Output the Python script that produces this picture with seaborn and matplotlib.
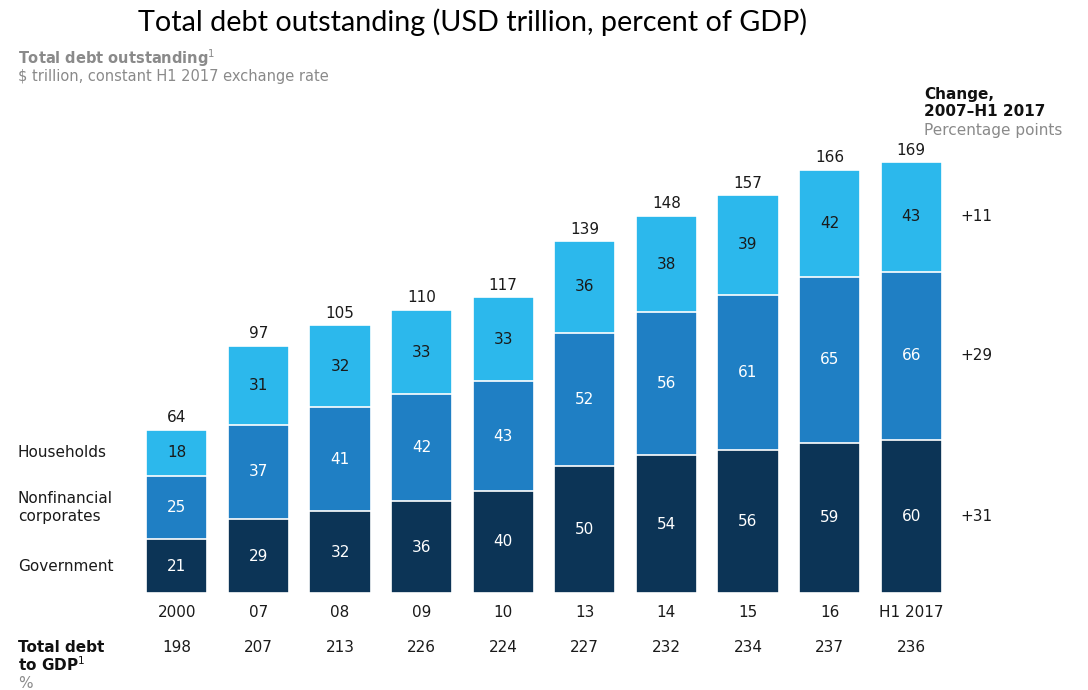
import matplotlib
matplotlib.use("Agg")
import matplotlib.pyplot as plt
import seaborn as sns
import pandas as pd
import numpy as np

# ---- data ----
periods = ["2000", "07", "08", "09", "10", "13", "14", "15", "16", "H1 2017"]
government = [21, 29, 32, 36, 40, 50, 54, 56, 59, 60]
nonfinancial = [25, 37, 41, 42, 43, 52, 56, 61, 65, 66]
households = [18, 31, 32, 33, 33, 36, 38, 39, 42, 43]
totals = [64, 97, 105, 110, 117, 139, 148, 157, 166, 169]
debt_to_gdp = [198, 207, 213, 226, 224, 227, 232, 234, 237, 236]
changes = ["+11", "+29", "+31"]  # households, nonfinancial, government
series_names = ["Households", "Nonfinancial\ncorporates", "Government"]

C_GOV = "#0c3456"
C_NFC = "#1f7fc4"
C_HH = "#2cb8ec"
GREY = "#8a8a8a"
TXT = "#1a1a1a"

sns.set_theme(style="white")
plt.rcParams["font.family"] = ["DejaVu Sans"]

W, H = 1088, 690
fig = plt.figure(figsize=(W / 100, H / 100), dpi=100)

# axes placement in pixels
base_px = 593
ppu = 2.55
ymax = 180
ax_left = 136
ax_w = 816
ax_h = ymax * ppu
ax = fig.add_axes([ax_left / W, (H - base_px) / H, ax_w / W, ax_h / H])

df = pd.DataFrame({
    "period": periods,
    "gov": government,
    "nfc": nonfinancial,
    "hh": households,
})
df["cum_nfc"] = df["gov"] + df["nfc"]
df["cum_hh"] = df["cum_nfc"] + df["hh"]

for col, color in [("cum_hh", C_HH), ("cum_nfc", C_NFC), ("gov", C_GOV)]:
    sns.barplot(data=df, x="period", y=col, color=color, saturation=1,
                width=0.75, edgecolor="white", linewidth=1.2, ax=ax, order=periods)

ax.set_xlim(-0.5, len(periods) - 0.5)
ax.set_ylim(0, ymax)
ax.axis("off")

fs = 11
for i in range(len(periods)):
    g, n, h = government[i], nonfinancial[i], households[i]
    ax.text(i, g / 2, str(g), ha="center", va="center", color="white", fontsize=fs)
    ax.text(i, g + n / 2, str(n), ha="center", va="center", color="white", fontsize=fs)
    ax.text(i, g + n + h / 2, str(h), ha="center", va="center", color=TXT, fontsize=fs)
    ax.text(i, g + n + h + 4.7, str(totals[i]), ha="center", va="center", color=TXT, fontsize=fs)
    ax.text(i, -7.8, periods[i], ha="center", va="center", color=TXT, fontsize=fs)
    ax.text(i, -21.3, str(debt_to_gdp[i]), ha="center", va="center", color=TXT, fontsize=fs)

# Change column (aligned to last bar segments)
last = len(periods) - 1
gl, nl, hl = government[last], nonfinancial[last], households[last]
xc = last + 0.6
ax.text(xc, gl + nl + hl / 2, changes[0], ha="left", va="center", color=TXT, fontsize=fs)
ax.text(xc, gl + nl / 2, changes[1], ha="left", va="center", color=TXT, fontsize=fs)
ax.text(xc, gl / 2, changes[2], ha="left", va="center", color=TXT, fontsize=fs)

# Series labels on the left (aligned to first bar segments)
g0, n0, h0 = government[0], nonfinancial[0], households[0]
xl = -0.5 - 118 / 81.6
ax.text(xl, g0 + n0 + h0 / 2, series_names[0], ha="left", va="center", color=TXT, fontsize=fs)
ax.text(xl, g0 + n0 / 2, series_names[1], ha="left", va="center", color=TXT, fontsize=fs, linespacing=1.2)
ax.text(xl, g0 / 2, series_names[2], ha="left", va="center", color=TXT, fontsize=fs)

# Headers
def fx(px):
    return px / W

def fy(py):
    return 1 - py / H

fig.text(fx(138), fy(22), "Total debt outstanding (USD trillion, percent of GDP)",
         fontsize=20.7, family=["Lato", "DejaVu Sans"], va="center", ha="left", color="black")
fig.text(fx(18), fy(58), "Total debt outstanding$^{1}$", fontsize=10.5, weight="bold",
         color=GREY, va="center", ha="left")
fig.text(fx(18), fy(77), "$ trillion, constant H1 2017 exchange rate", fontsize=10.5,
         color=GREY, va="center", ha="left")
fig.text(fx(924), fy(94), "Change,", fontsize=11, weight="bold", color="#111111", va="center", ha="left")
fig.text(fx(924), fy(112), "2007\u2013H1 2017", fontsize=11, weight="bold", color="#111111", va="center", ha="left")
fig.text(fx(924), fy(130), "Percentage points", fontsize=11, color=GREY, va="center", ha="left")

fig.text(fx(18), fy(648), "Total debt", fontsize=11, weight="bold", color="#111111", va="center", ha="left")
fig.text(fx(18), fy(665), "to GDP$^{1}$", fontsize=11, weight="bold", color="#111111", va="center", ha="left")
fig.text(fx(18), fy(683), "%", fontsize=11, color=GREY, va="center", ha="left")

fig.savefig("out.png", dpi=100, facecolor="white")
